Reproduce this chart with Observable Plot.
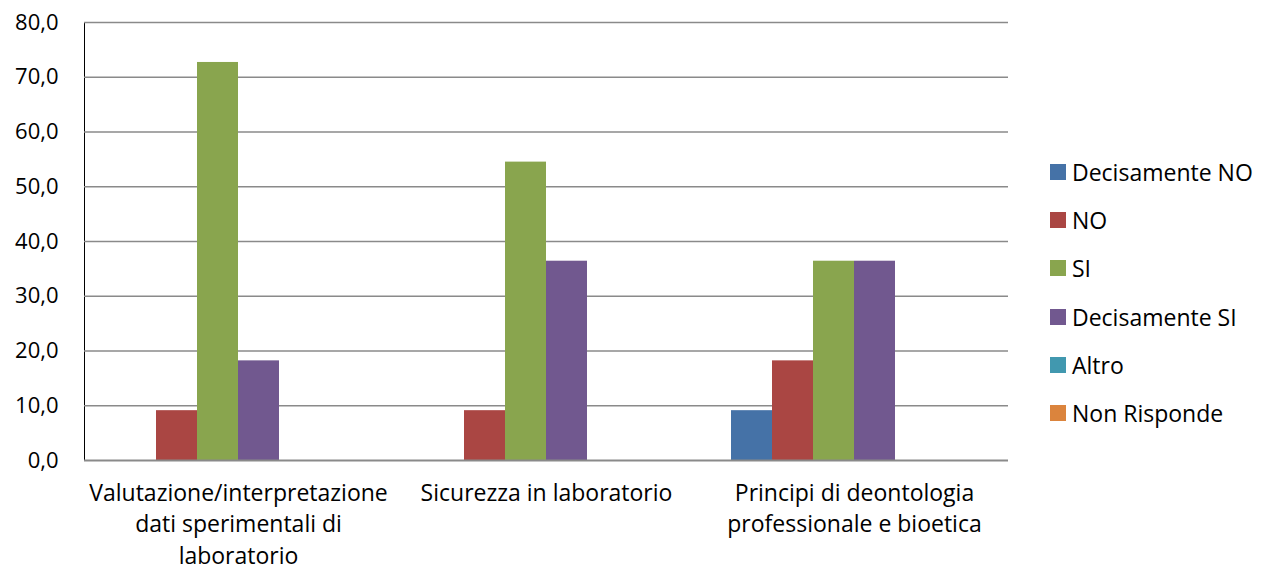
<!DOCTYPE html>
<html><head><meta charset="utf-8">
<script src="https://cdn.jsdelivr.net/npm/d3@7"></script>
<script src="https://cdn.jsdelivr.net/npm/@observablehq/plot@0.6"></script>
<style>
body{margin:0;background:#fff;font-family:"Open Sans",sans-serif;}
#wrap{position:relative;width:1272px;height:569px;}
#legend{position:absolute;left:1050px;top:0;}
.item{position:absolute;left:0;display:flex;align-items:center;white-space:nowrap;font-size:23px;color:#000;height:28px;}
.sw{width:16px;height:16px;margin-right:6px;}
</style>
</head><body>
<div id="wrap"><div id="chart"></div><div id="legend"></div></div>
<script>
const categories = ["Valutazione/interpretazione dati sperimentali di laboratorio", "Sicurezza in laboratorio", "Principi di deontologia professionale e bioetica"];
const categoryLabels = ["Valutazione/interpretazione\ndati sperimentali di\nlaboratorio", "Sicurezza in laboratorio", "Principi di deontologia\nprofessionale e bioetica"];
const series = ["Decisamente NO", "NO", "SI", "Decisamente SI", "Altro", "Non Risponde"];
const colors = ["#4572A7", "#AA4643", "#89A54E", "#71588F", "#4198AF", "#DB843D"];
const valDecisamenteNO = [0, 0, 9.1];
const valNO = [9.1, 9.1, 18.2];
const valSI = [72.7, 54.5, 36.4];
const valDecisamenteSI = [18.2, 36.4, 36.4];
const valAltro = [0, 0, 0];
const valNonRisponde = [0, 0, 0];
const yTicks = [0, 10, 20, 30, 40, 50, 60, 70, 80];

const seriesValues = [valDecisamenteNO, valNO, valSI, valDecisamenteSI, valAltro, valNonRisponde];
const data = [];
categories.forEach((c, i) => series.forEach((s, j) => data.push({category: c, series: s, value: seriesValues[j][i]})));
const fmt = d => d.toFixed(1).replace(".", ",");
const labelOf = c => categoryLabels[categories.indexOf(c)];

const chart = Plot.plot({
  width: 1008, height: 569,
  marginLeft: 84, marginRight: 0, marginTop: 22, marginBottom: 109,
  style: {fontSize: "22px", fontFamily: "'Open Sans', sans-serif", color: "#000"},
  fx: {domain: categories, padding: 0, label: null},
  x: {domain: series, paddingInner: 0, paddingOuter: 0.693, axis: null},
  y: {domain: [0, 80], ticks: yTicks, tickFormat: fmt, tickSize: 0, tickPadding: 26, label: null, line: true},
  color: {domain: series, range: colors},
  marks: [
    Plot.ruleY(yTicks.slice(1), {stroke: "#8a8a8a", strokeWidth: 1.3}),
    Plot.barY(data, {fx: "category", x: "series", y: "value", fill: "series"}),
    Plot.ruleY([0], {stroke: "#8a8a8a", strokeWidth: 2}),
    Plot.axisFx({tickSize: 0, tickPadding: 18, tickFormat: labelOf, lineHeight: 1.37, fontSize: 23, label: null, anchor: "bottom"})
  ]
});
document.getElementById("chart").appendChild(chart);

const legend = document.getElementById("legend");
series.forEach((s, i) => {
  const it = document.createElement("div");
  it.className = "item";
  it.style.top = (158 + i * 48.2) + "px";
  it.innerHTML = `<div class="sw" style="background:${colors[i]}"></div><span>${s}</span>`;
  legend.appendChild(it);
});
</script>
</body></html>
